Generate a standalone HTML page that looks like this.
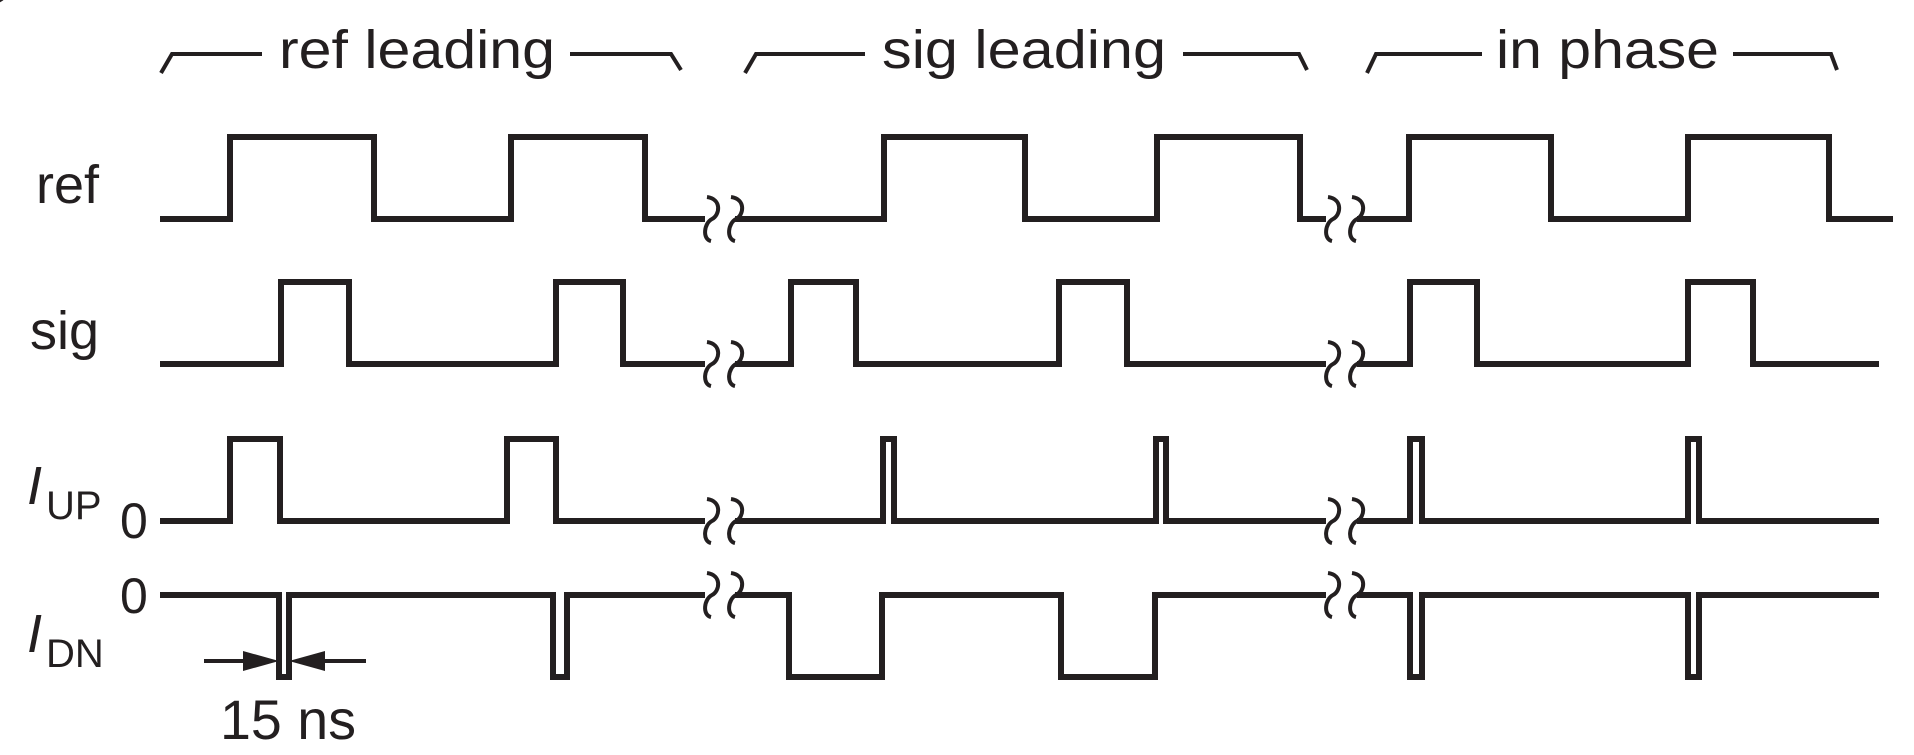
<!DOCTYPE html>
<html><head><meta charset="utf-8"><style>
html,body{margin:0;padding:0;background:#fff;}
svg{display:block;}
text{font-family:"Liberation Sans",sans-serif;fill:#231f20;}
</style></head><body>
<svg width="1914" height="755" viewBox="0 0 1914 755" xmlns="http://www.w3.org/2000/svg">
<g fill="none" stroke="#231f20" stroke-width="6" stroke-linejoin="miter" stroke-linecap="butt">
<!-- ref -->
<polyline points="160,219 230,219 230,137 374,137 374,219 511,219 511,137 645,137 645,219 705,219"/>
<polyline points="735,219 884,219 884,137 1025,137 1025,219 1157,219 1157,137 1300,137 1300,219 1326,219"/>
<polyline points="1357,219 1409,219 1409,137 1551,137 1551,219 1688,219 1688,137 1829,137 1829,219 1893,219"/>
<!-- sig -->
<polyline points="160,364 281,364 281,282 349,282 349,364 556,364 556,282 623,282 623,364 705,364"/>
<polyline points="735,364 791,364 791,282 856,282 856,364 1059,364 1059,282 1127,282 1127,364 1326,364"/>
<polyline points="1357,364 1410,364 1410,282 1477,282 1477,364 1688,364 1688,282 1753,282 1753,364 1879,364"/>
<!-- IUP -->
<polyline points="160,521 230,521 230,439 280,439 280,521 507,521 507,439 556,439 556,521 705,521"/>
<polyline points="735,521 883,521 883,439 894,439 894,521 1156,521 1156,439 1166,439 1166,521 1326,521"/>
<polyline points="1357,521 1410,521 1410,439 1422,439 1422,521 1688,521 1688,439 1699,439 1699,521 1879,521"/>
<!-- IDN -->
<polyline points="160,595 279,595 279,677 289,677 289,595 553,595 553,677 567,677 567,595 705,595"/>
<polyline points="735,595 789,595 789,677 882,677 882,595 1061,595 1061,677 1155,677 1155,595 1326,595"/>
<polyline points="1357,595 1410,595 1410,677 1422,677 1422,595 1688,595 1688,677 1699,677 1699,595 1879,595"/>
<!-- brackets -->
<g stroke-width="4">
<polyline points="161,73 172,54 262,54"/>
<polyline points="570,54 671,54 681,70"/>
<polyline points="745,73 756,54 865,54"/>
<polyline points="1183,54 1299,54 1307,70"/>
<polyline points="1367,73 1376,54 1482,54"/>
<polyline points="1733,54 1831,54 1837,70"/>
<!-- arrow lines -->
<line x1="204" y1="661" x2="250" y2="661"/>
<line x1="318" y1="661" x2="366" y2="661"/>
</g>
</g>
<!-- squiggles -->
<g fill="none" stroke="#231f20" stroke-width="4">
<path id="sq" d="M-5,-22 C10,-20 8,-4 0,0 C-8,4 -10,20 -1,22"/>
</g>
<g fill="none" stroke="#231f20" stroke-width="4">
<g transform="translate(712,219)"><path d="M-5,-22 C10,-20 8,-4 0,0 C-8,4 -10,20 -1,22"/></g>
<g transform="translate(736,219)"><path d="M-5,-22 C10,-20 8,-4 0,0 C-8,4 -10,20 -1,22"/></g>
<g transform="translate(712,364)"><path d="M-5,-22 C10,-20 8,-4 0,0 C-8,4 -10,20 -1,22"/></g>
<g transform="translate(736,364)"><path d="M-5,-22 C10,-20 8,-4 0,0 C-8,4 -10,20 -1,22"/></g>
<g transform="translate(712,521)"><path d="M-5,-22 C10,-20 8,-4 0,0 C-8,4 -10,20 -1,22"/></g>
<g transform="translate(736,521)"><path d="M-5,-22 C10,-20 8,-4 0,0 C-8,4 -10,20 -1,22"/></g>
<g transform="translate(712,595)"><path d="M-5,-22 C10,-20 8,-4 0,0 C-8,4 -10,20 -1,22"/></g>
<g transform="translate(736,595)"><path d="M-5,-22 C10,-20 8,-4 0,0 C-8,4 -10,20 -1,22"/></g>
<g transform="translate(1333,219)"><path d="M-5,-22 C10,-20 8,-4 0,0 C-8,4 -10,20 -1,22"/></g>
<g transform="translate(1357,219)"><path d="M-5,-22 C10,-20 8,-4 0,0 C-8,4 -10,20 -1,22"/></g>
<g transform="translate(1333,364)"><path d="M-5,-22 C10,-20 8,-4 0,0 C-8,4 -10,20 -1,22"/></g>
<g transform="translate(1357,364)"><path d="M-5,-22 C10,-20 8,-4 0,0 C-8,4 -10,20 -1,22"/></g>
<g transform="translate(1333,521)"><path d="M-5,-22 C10,-20 8,-4 0,0 C-8,4 -10,20 -1,22"/></g>
<g transform="translate(1357,521)"><path d="M-5,-22 C10,-20 8,-4 0,0 C-8,4 -10,20 -1,22"/></g>
<g transform="translate(1333,595)"><path d="M-5,-22 C10,-20 8,-4 0,0 C-8,4 -10,20 -1,22"/></g>
<g transform="translate(1357,595)"><path d="M-5,-22 C10,-20 8,-4 0,0 C-8,4 -10,20 -1,22"/></g>
</g>
<!-- arrowheads -->
<polygon points="243,651 279,661 243,671" fill="#231f20"/>
<polygon points="325,651 289,661 325,671" fill="#231f20"/>
<!-- text -->
<text x="279" y="68" font-size="54" textLength="276" lengthAdjust="spacingAndGlyphs">ref leading</text>
<text x="882" y="68" font-size="54" textLength="284" lengthAdjust="spacingAndGlyphs">sig leading</text>
<text x="1496" y="68" font-size="54" textLength="223" lengthAdjust="spacingAndGlyphs">in phase</text>
<text x="36" y="203" font-size="54">ref</text>
<text x="30" y="349" font-size="54">sig</text>
<text x="27" y="504" font-size="54" font-style="italic">I</text>
<text x="46" y="519" font-size="40">UP</text>
<text x="120" y="538" font-size="50">0</text>
<text x="120" y="613" font-size="50">0</text>
<text x="27" y="652" font-size="54" font-style="italic">I</text>
<text x="46" y="667" font-size="40">DN</text>
<text x="220" y="739" font-size="56" textLength="136" lengthAdjust="spacingAndGlyphs">15 ns</text>
</svg>
</body></html>
